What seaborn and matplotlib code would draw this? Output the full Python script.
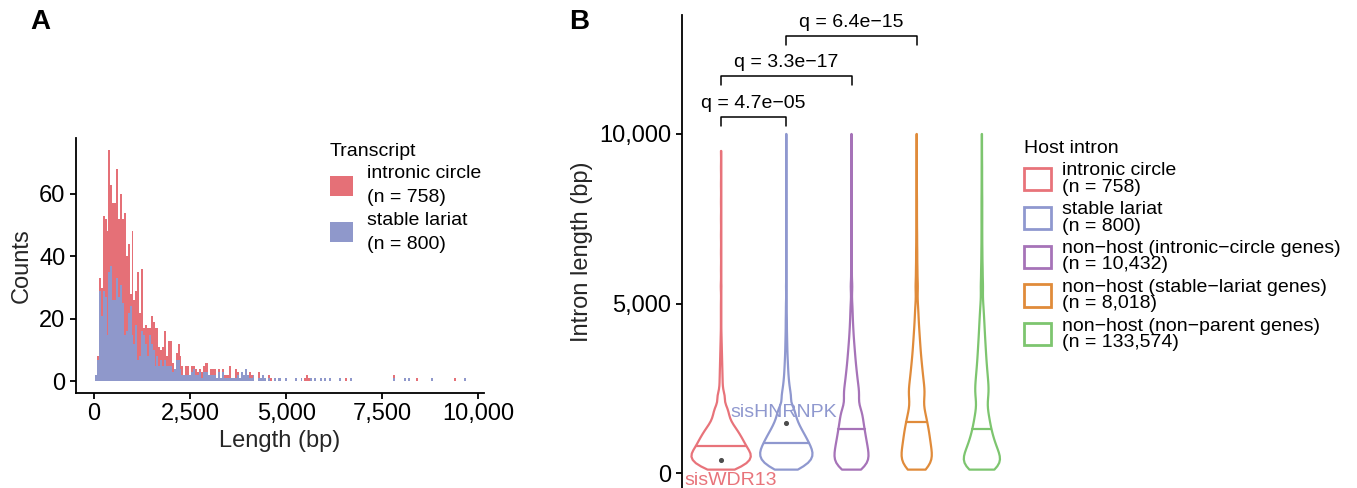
import numpy as np
import pandas as pd
import matplotlib
matplotlib.use("Agg")
import matplotlib.pyplot as plt
from matplotlib.patches import Patch
from matplotlib.ticker import FuncFormatter
import seaborn as sns

# Panel A: transcript length, counts per 50 bp bin (bins centred at 50, 100, ... 5000 bp)
bin_width = 50
circle_counts = [0, 1, 4, 9, 24, 25, 33, 39, 26, 31, 31, 35, 25, 29, 27, 39, 24, 22, 4, 33,
                 14, 11, 28, 14, 20, 2, 6, 9, 2, 9, 9, 12, 9, 6, 3, 6, 9, 3, 8, 8,
                 3, 0, 2, 5, 4, 3, 0, 3, 3, 0, 2, 1, 2, 1, 1, 2, 2, 3, 3, 0,
                 2, 2, 2, 0, 1, 0, 1, 1, 1, 1, 4, 0, 0, 3, 1, 0, 0, 0, 0, 0,
                 2, 1, 0, 0, 0, 2, 0, 0, 0, 0, 1, 1, 0, 0, 0, 0, 0, 0, 0, 0]
lariat_counts = [2, 7, 29, 21, 29, 27, 15, 35, 37, 26, 26, 33, 27, 31, 25, 15, 16, 22, 24, 15,
                 12, 18, 7, 8, 16, 15, 12, 8, 15, 12, 10, 5, 8, 5, 7, 5, 7, 5, 5, 5,
                 3, 4, 7, 7, 4, 2, 2, 2, 2, 2, 3, 4, 2, 2, 3, 1, 3, 3, 3, 2,
                 2, 2, 2, 1, 3, 1, 3, 1, 1, 1, 1, 1, 1, 1, 2, 1, 3, 2, 4, 2,
                 1, 1, 2, 0, 0, 1, 1, 2, 1, 0, 1, 0, 0, 1, 0, 1, 1, 0, 0, 1]
# single transcripts beyond 5,000 bp (bin centres)
circle_tail_bp = [5500, 5550, 5550, 5600, 6550, 7800, 8400, 9400]
lariat_tail_bp = [5250, 5400, 5650, 5750, 5900, 6000, 6150, 6400, 6700, 7800, 8100, 8200, 8800, 9650]

transcripts = ["intronic circle", "stable lariat"]
transcript_n = [758, 800]
transcript_colors = ["#E57077", "#8F98CB"]

# Panel B: host intron length, relative counts per length bin
grid_bp = [100, 200, 300, 400, 500, 600, 700, 800, 900, 1000,
           1100, 1200, 1300, 1400, 1500, 1600, 1700, 1800, 1900, 2000,
           2250, 2500, 2750, 3000, 3250, 3500, 3750, 4000, 4250, 4500, 4750, 5000,
           5500, 6000, 6500, 7000, 7500, 8000, 8500, 9000, 9500, 10000]
circle_intron = [30, 43, 52, 57, 59, 58, 49, 47, 44, 40, 37, 33, 29, 24, 19, 16, 15, 14, 13, 12,
                 19, 8, 7, 6, 5, 4, 3, 2, 1, 1, 1, 1,
                 2, 1, 1, 1, 1, 1, 1, 1, 1, 0]
lariat_intron = [28, 40, 48, 54, 56, 56, 53, 50, 46, 43, 39, 35, 31, 27, 24, 21, 19, 18, 17, 16,
                 26, 18, 13, 10, 8, 6, 5, 4, 3, 3, 2, 2,
                 2, 1, 1, 1, 1, 1, 1, 1, 1, 1]
nonhost_circle = [24, 28, 31, 32, 31, 30, 30, 28, 27, 26, 25, 24, 23, 22, 21, 20, 20, 19, 18, 17,
                  37, 32, 27, 23, 19, 16, 13, 10, 8, 6, 5, 4,
                  6, 3, 2, 2, 1, 1, 1, 1, 1, 1]
nonhost_lariat = [19, 22, 23, 23, 23, 22, 21, 20, 20, 18, 19, 18, 17, 16, 15, 14, 13, 12, 12, 11,
                  32, 28, 24, 21, 18, 15, 13, 11, 9, 7, 6, 5,
                  8, 5, 4, 3, 2, 2, 1, 1, 1, 1]
nonhost_other = [36, 36, 35, 33, 30, 28, 25, 23, 21, 19, 18, 16, 15, 14, 13, 12, 11, 11, 10, 9,
                 30, 28, 25, 22, 19, 17, 15, 13, 11, 10, 7, 7,
                 9, 6, 4, 3, 3, 3, 2, 2, 1, 1]

host_groups = ["intronic circle", "stable lariat", "non\u2212host (intronic\u2212circle genes)",
               "non\u2212host (stable\u2212lariat genes)", "non\u2212host (non\u2212parent genes)"]
host_n = ["758", "800", "10,432", "8,018", "133,574"]
host_colors = ["#E8737A", "#8F98CF", "#A673B8", "#E08B3A", "#7DC56F"]

# highlighted introns
label_names = ["sisWDR13", "sisHNRNPK"]
label_groups = [0, 1]
label_bp = [380, 1480]

# pairwise tests
comparisons = [(0, 1), (0, 2), (1, 3)]
q_labels = ["q = 4.7e\u221205", "q = 3.3e\u221217", "q = 6.4e\u221215"]
bracket_bp = [10500, 11710, 12890]

sns.set_theme(style="white")
plt.rcParams["font.family"] = ["Liberation Sans", "DejaVu Sans"]
plt.rcParams["axes.edgecolor"] = "black"
plt.rcParams["axes.linewidth"] = 1.3
plt.rcParams["xtick.color"] = "black"
plt.rcParams["ytick.color"] = "black"
plt.rcParams["text.color"] = "black"

fig = plt.figure(figsize=(13.57, 4.88), dpi=100)
axA = fig.add_axes([76 / 1357, 95 / 488, 408 / 1357, 255 / 488])
axB = fig.add_axes([682 / 1357, 0, 339 / 1357, 473 / 488])

# ---- A ----
centres = bin_width * np.arange(1, len(circle_counts) + 1)
hist_df = pd.concat([
    pd.DataFrame({"length": centres, "count": circle_counts, "transcript": transcripts[0]}),
    pd.DataFrame({"length": circle_tail_bp, "count": 1, "transcript": transcripts[0]}),
    pd.DataFrame({"length": centres, "count": lariat_counts, "transcript": transcripts[1]}),
    pd.DataFrame({"length": lariat_tail_bp, "count": 1, "transcript": transcripts[1]}),
], ignore_index=True)

sns.histplot(data=hist_df, x="length", weights="count", hue="transcript",
             hue_order=transcripts, palette=transcript_colors, multiple="stack",
             binwidth=bin_width, binrange=(25, 9725), linewidth=0, alpha=1,
             legend=False, ax=axA)
axA.set_xlim(-470, 10150)
axA.set_ylim(-3.7, 77.9)
axA.set_xticks([0, 2500, 5000, 7500, 10000])
axA.set_yticks([0, 20, 40, 60])
axA.xaxis.set_major_formatter(FuncFormatter(lambda v, p: f"{v:,.0f}"))
axA.set_xlabel("Length (bp)", fontsize=17, labelpad=3)
axA.set_ylabel("Counts", fontsize=17, labelpad=5)
axA.tick_params(axis="both", labelsize=17, length=4.5, width=1.3, pad=3, bottom=True, left=True)
sns.despine(ax=axA)

legA = fig.legend(
    handles=[Patch(facecolor=c, edgecolor="none") for c in transcript_colors],
    labels=[f"{t}\n(n = {n})" for t, n in zip(transcripts, transcript_n)],
    title="Transcript", loc="upper left", bbox_to_anchor=(330 / 1357, 1 - 143 / 488),
    frameon=False, fontsize=14, title_fontsize=14, handlelength=1.19,
    handleheight=1.19, handletextpad=0.7, labelspacing=0.27, borderpad=0,
    borderaxespad=0, alignment="left")
for t in legA.get_texts():
    t.set_linespacing(1.55)

# ---- B ----
vdf = pd.DataFrame({
    "group": np.repeat(host_groups, len(grid_bp)),
    "length": np.tile(grid_bp, len(host_groups)),
    "count": np.concatenate([circle_intron, lariat_intron, nonhost_circle,
                             nonhost_lariat, nonhost_other]),
})
vdf = vdf.loc[vdf.index.repeat(vdf["count"])].reset_index(drop=True)

sns.violinplot(data=vdf, x="group", y="length", hue="group", order=host_groups,
               hue_order=host_groups, palette=host_colors, fill=False, inner="quart",
               cut=0, bw_adjust=0.5, density_norm="area", common_norm=True,
               width=0.91, linewidth=1.6, legend=False, ax=axB)
# keep only the median line of each violin
for i, line in enumerate(list(axB.lines)):
    if i % 3 == 1:
        line.set_linestyle("-")
    else:
        line.remove()

axB.scatter(label_groups, label_bp, s=7, color="#4D4D4D", zorder=5)
axB.text(-0.56, -220, label_names[0], color=host_colors[0], fontsize=14,
         ha="left", va="center")
axB.text(0.14, 1780, label_names[1], color=host_colors[1], fontsize=14,
         ha="left", va="center")

tip = 270
for (a, b), q, yb in zip(comparisons, q_labels, bracket_bp):
    axB.plot([a, a, b, b], [yb - tip, yb, yb, yb - tip], color="black", lw=1.1)
    axB.text((a + b) / 2, yb + 270, q, ha="center", va="baseline", fontsize=14)

axB.set_xlim(-0.6, 4.6)
axB.set_ylim(-442, 13510)
axB.set_yticks([0, 5000, 10000])
axB.yaxis.set_major_formatter(FuncFormatter(lambda v, p: f"{v:,.0f}"))
axB.set_xticks([])
axB.set_xlabel("")
axB.set_ylabel("Intron length (bp)", fontsize=17, labelpad=5)
axB.tick_params(axis="y", labelsize=17, length=4.5, width=1.3, pad=3, left=True)
sns.despine(ax=axB, bottom=True)

legB = fig.legend(
    handles=[Patch(facecolor="white", edgecolor=c, linewidth=2) for c in host_colors],
    labels=[f"{g}\n(n = {n})" for g, n in zip(host_groups, host_n)],
    title="Host intron", loc="upper left", bbox_to_anchor=(1024 / 1357, 1 - 140 / 488),
    frameon=False, fontsize=14, title_fontsize=14, handlelength=1.39,
    handleheight=1.39, handletextpad=0.55, labelspacing=0.28, borderpad=0,
    borderaxespad=0, alignment="left")
for t in legB.get_texts():
    t.set_linespacing(0.95)

fig.text(30 / 1357, 1 - 22 / 488, "A", fontsize=20, fontweight="bold", va="center")
fig.text(569 / 1357, 1 - 22 / 488, "B", fontsize=20, fontweight="bold", va="center")

fig.savefig("out.png", dpi=100)
